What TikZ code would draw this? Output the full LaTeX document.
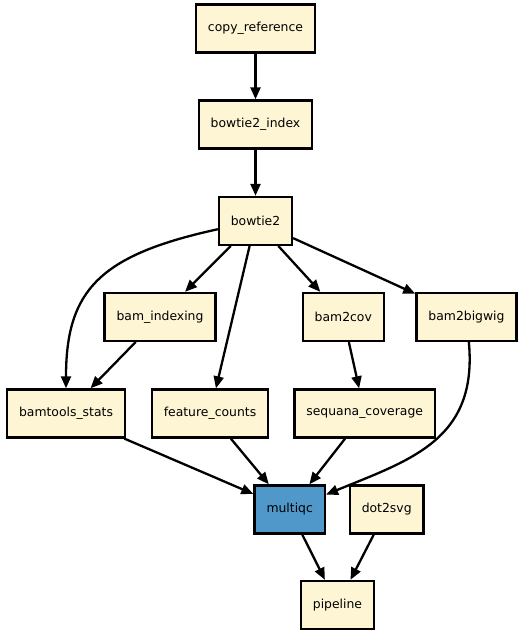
\documentclass[tikz,border=0pt]{standalone}
\usepackage{fontspec}
\setmainfont{DejaVu Sans}
\usetikzlibrary{arrows.meta}
\definecolor{rulefill}{HTML}{FDF5D3}
\definecolor{qcfill}{HTML}{5097CA}
\begin{document}
\begin{tikzpicture}[
  x=1pt, y=-1pt,
  line cap=round,
  line join=round,
  every node/.style={font=\fontsize{12.4}{14}\selectfont},
  rulebox/.style={draw, line width=2.4pt, fill=rulefill,
    minimum height=48pt, inner xsep=12pt, line join=miter},
  edge/.style={line width=2.3pt, -{Triangle[length=12pt,width=10pt]}}
]
  \useasboundingbox (0,0) rectangle (528,635);

  % Regeln
  \node[rulebox] (copyref)  at (255.5,28.5)  {copy\_reference};
  \node[rulebox] (index)    at (255.5,124.5) {bowtie2\_index};
  \node[rulebox] (bowtie)   at (255.5,221)   {bowtie2};
  \node[rulebox] (bamidx)   at (160,317)     {bam\_indexing};
  \node[rulebox] (bamcov)   at (343.3,317)   {bam2cov};
  \node[rulebox] (bigwig)   at (466.5,317)   {bam2bigwig};
  \node[rulebox] (bamstats) at (66,413.5)    {bamtools\_stats};
  \node[rulebox] (counts)   at (210,413.5)   {feature\_counts};
  \node[rulebox] (coverage) at (364.7,413.5) {sequana\_coverage};
  \node[rulebox, fill=qcfill] (multiqc) at (289.7,509.5) {multiqc};
  \node[rulebox] (dotsvg)   at (386.7,509.5) {dot2svg};
  \node[rulebox] (pipeline) at (337.5,605)   {pipeline};

  % Kanten
  \draw[edge] (copyref) -- (index);
  \draw[edge] (index) -- (bowtie);
  \draw[edge] (bowtie) .. controls (100,255) and (66,290) .. (bamstats);
  \draw[edge] (bowtie) -- (bamidx);
  \draw[edge] (bowtie) -- (counts);
  \draw[edge] (bowtie) -- (bamcov);
  \draw[edge] (bowtie) -- (bigwig);
  \draw[edge] (bamidx) -- (bamstats);
  \draw[edge] (bamcov) -- (coverage);
  \draw[edge] (bigwig) .. controls (478,440) and (410,460) .. (multiqc);
  \draw[edge] (bamstats) -- (multiqc);
  \draw[edge] (counts) -- (multiqc);
  \draw[edge] (coverage) -- (multiqc);
  \draw[edge] (multiqc) -- (pipeline);
  \draw[edge] (dotsvg) -- (pipeline);
\end{tikzpicture}
\end{document}
